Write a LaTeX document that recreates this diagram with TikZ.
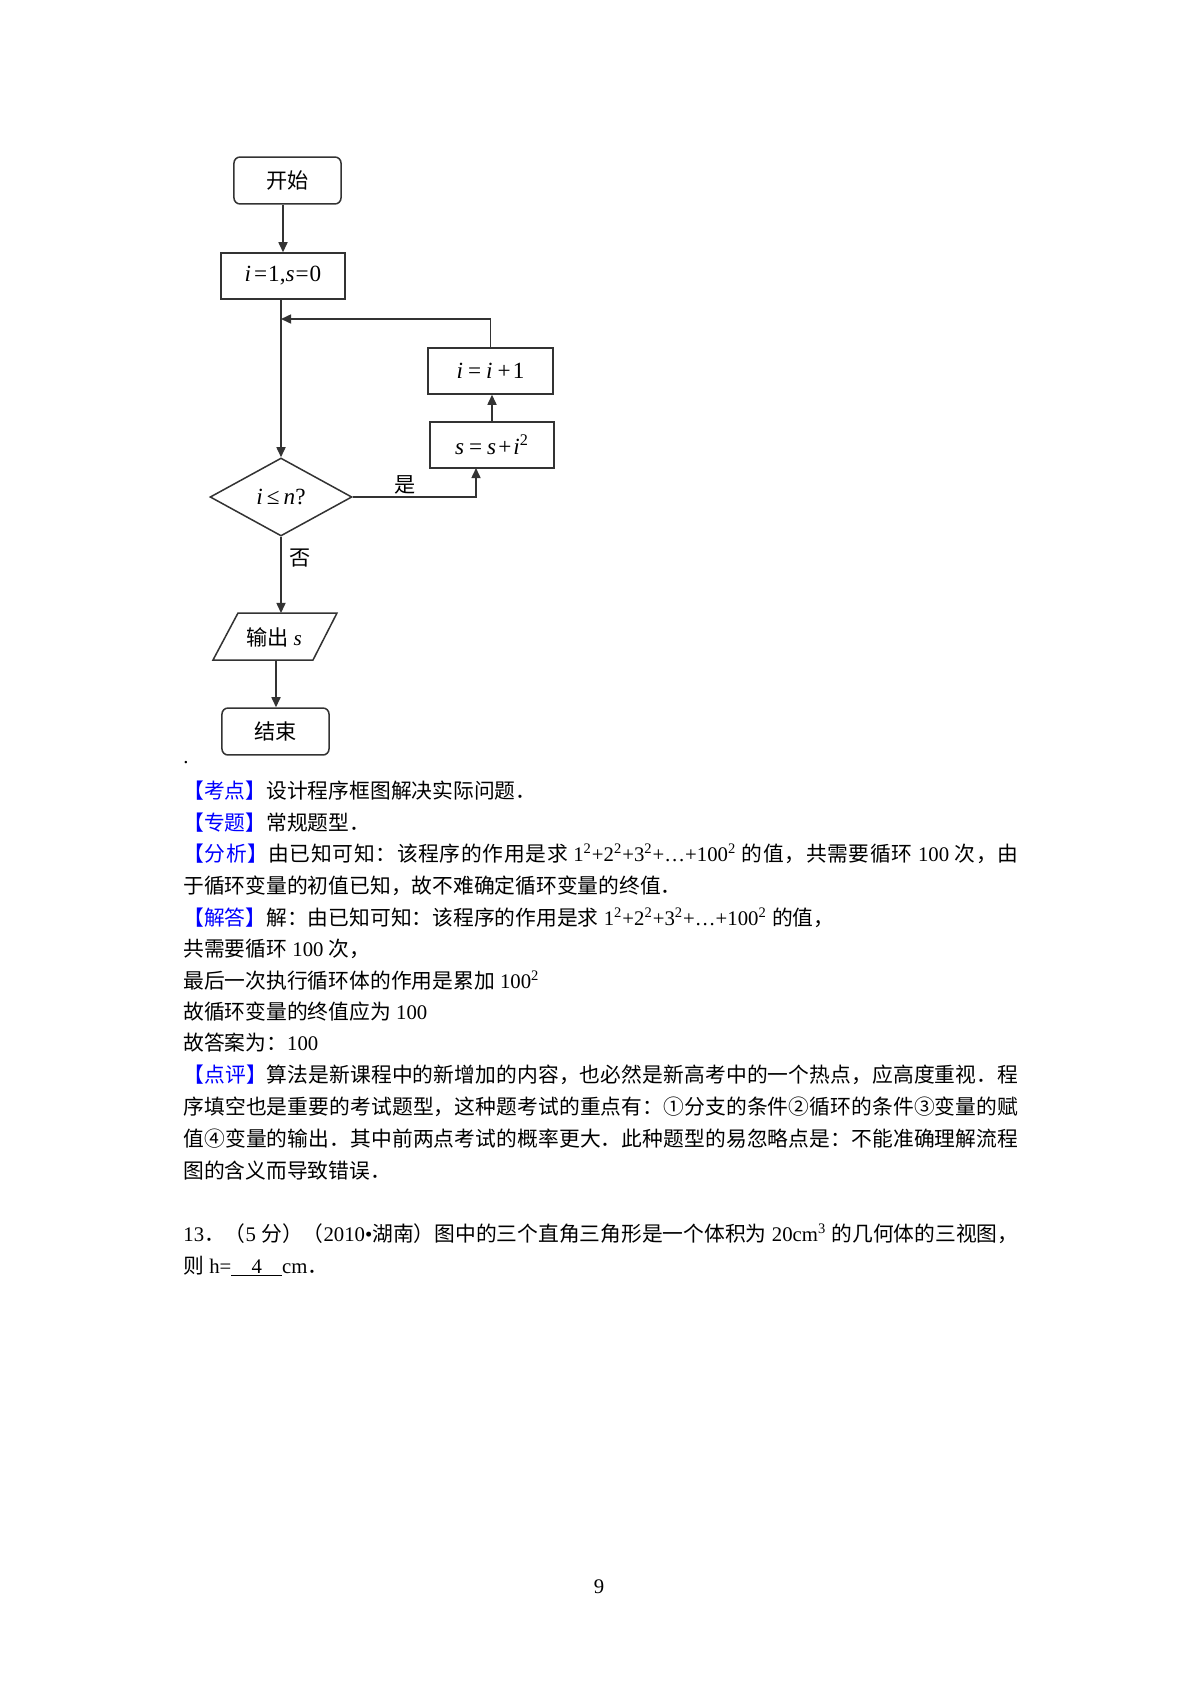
\documentclass[tikz,border=0pt]{standalone}
\usepackage{fontspec}
\setmainfont{Liberation Serif}
\newfontfamily\cjkf{Noto Sans CJK SC}
\newfontfamily\latf{Liberation Serif}
\usetikzlibrary{arrows.meta,shapes.geometric}
\XeTeXinterchartokenstate=1
\newXeTeXintercharclass\cjkcls
\newcount\cjkcc
\def\setcjkrange#1#2{\cjkcc=#1\relax\loop\XeTeXcharclass\cjkcc=\cjkcls\relax\ifnum\cjkcc<#2\relax\advance\cjkcc by 1\relax\repeat}
\setcjkrange{"4E00}{"9FFF}
\setcjkrange{"3000}{"303F}
\setcjkrange{"FF00}{"FFEF}
\setcjkrange{"2460}{"24FF}
\XeTeXinterchartoks 0 \cjkcls = {\cjkf}
\XeTeXinterchartoks 4095 \cjkcls = {\cjkf}
\XeTeXinterchartoks \cjkcls 0 = {\latf}
\XeTeXinterchartoks \cjkcls 4095 = {\latf}
\XeTeXinterchartoks \cjkcls \cjkcls = {\hskip 0pt plus 3pt minus 0.2pt}
\newcommand\fcfont{\fontsize{10.5}{12}\selectfont}
\newcommand\mfont{\fontsize{11.5}{13}\selectfont}
\newcommand\bodyfont{\fontsize{10.3}{12}\selectfont}
\newcommand\jline[1]{\makebox[414.2pt][s]{#1}}
\begin{document}
\begin{tikzpicture}[x=0.4961pt,y=-0.4961pt,
  line/.style={draw=black!80, line width=0.75pt},
  arr/.style={line, -{Triangle[length=5pt,width=4.5pt]}},
  box/.style={draw=black!80, line width=0.75pt, inner sep=0pt, font=\fcfont},
  term/.style={box, rounded corners=3pt, minimum width=53.1pt, minimum height=23.3pt},
  proc/.style={box, minimum height=22.8pt, font=\mfont},
  dec/.style={box, diamond, minimum width=70.4pt, minimum height=38.7pt, font=\mfont},
  lbl/.style={inner sep=0pt, font=\fcfont},
  txt/.style={anchor=base west, inner sep=0pt, font=\bodyfont}]
\useasboundingbox (0,0) rectangle (1200,1698);
% flowchart
\node[term] (start) at (287.5,180.5) {开始};
\node[proc, minimum width=61.5pt] (init) at (283,276) {\textit{i}\hspace{1.5pt}=\hspace{0.5pt}1,\textit{s}\hspace{0.5pt}=\hspace{0.5pt}0};
\node[proc, minimum width=62pt] (inc) at (490.5,371) {\textit{i}\hspace{2.5pt}=\hspace{2.5pt}\textit{i}\hspace{2.5pt}+\hspace{1pt}1};
\node[proc, minimum width=61.5pt] (sq) at (492,445) {\textit{s}\hspace{2.5pt}=\hspace{2.5pt}\textit{s}\hspace{1pt}+\hspace{1pt}\textit{i}\textsuperscript{2}};
\node[dec] (dia) at (281,497) {\textit{i}\hspace{2pt}≤\hspace{2pt}\textit{n}?};
\coordinate (otl) at (238,613);
\coordinate (otr) at (337,613);
\coordinate (obr) at (313,660);
\coordinate (obl) at (213,660);
\draw[line] (otl) -- (otr) -- (obr) -- (obl) -- cycle;
\node[lbl] (out) at (274,637) {输出 \textit{s}};
\coordinate (otop) at (281,613);
\coordinate (obot) at (276,660);
\node[term] (stop) at (275.5,731.5) {结束};
\coordinate (lj) at (281,319);
\coordinate (yin) at (476,468);
\draw[arr] (start.south -| init.north) -- (init.north);
\draw[arr] (init.south -| dia.north) -- (dia.north);
\draw[arr] (inc.north) |- (lj);
\draw[arr] (sq.north) -- (sq.north |- inc.south);
\draw[arr] (dia.east) -| (yin);
\node[lbl] (yes) at (405,485) {是};
\draw[arr] (dia.south) -- (otop);
\node[lbl] (no) at (300,558) {否};
\draw[arr] (obot) -- (obot |- stop.north);
% body text
\node[txt] (dot) at (183,763) {.};
\node[txt] (l0) at (183,798) {\textcolor{blue}{【考点】}\cjkf 设计程序框图解决实际问题．};
\node[txt] (l1) at (183,830) {\textcolor{blue}{【专题】}\cjkf 常规题型．};
\node[txt] (l2) at (183,861) {\jline{\textcolor{blue}{【分析】}\cjkf 由已知可知：该程序的作用是求 1\textsuperscript{2}+2\textsuperscript{2}+3\textsuperscript{2}+…+100\textsuperscript{2} 的值，共需要循环 100 次，由}};
\node[txt] (l3) at (183,893) {于循环变量的初值已知，故不难确定循环变量的终值．};
\node[txt] (l4) at (183,925) {\textcolor{blue}{【解答】}\cjkf 解：由已知可知：该程序的作用是求 1\textsuperscript{2}+2\textsuperscript{2}+3\textsuperscript{2}+…+100\textsuperscript{2} 的值，};
\node[txt] (l5) at (183,956) {共需要循环 100 次，};
\node[txt] (l6) at (183,988) {最后一次执行循环体的作用是累加 100\textsuperscript{2}};
\node[txt] (l7) at (183,1019) {故循环变量的终值应为 100};
\node[txt] (l8) at (183,1050) {故答案为：100};
\node[txt] (l9) at (183,1082) {\jline{\textcolor{blue}{【点评】}\cjkf 算法是新课程中的新增加的内容，也必然是新高考中的一个热点，应高度重视．程}};
\node[txt] (l10) at (183,1114) {\jline{序填空也是重要的考试题型，这种题考试的重点有：①分支的条件②循环的条件③变量的赋}};
\node[txt] (l11) at (183,1146) {\jline{值④变量的输出．其中前两点考试的概率更大．此种题型的易忽略点是：不能准确理解流程}};
\node[txt] (l12) at (183,1178) {图的含义而导致错误．};
\node[txt] (l13) at (183,1241) {\jline{13．（5 分）（2010•湖南）图中的三个直角三角形是一个体积为 20cm\textsuperscript{3} 的几何体的三视图，}};
\node[txt] (l14) at (183,1273) {则 h=\underline{\mbox{\hspace{10pt}4\hspace{10pt}}}cm．};
\node[anchor=base, inner sep=0pt, font=\bodyfont] (pg) at (599,1593) {9};
\end{tikzpicture}
\end{document}
